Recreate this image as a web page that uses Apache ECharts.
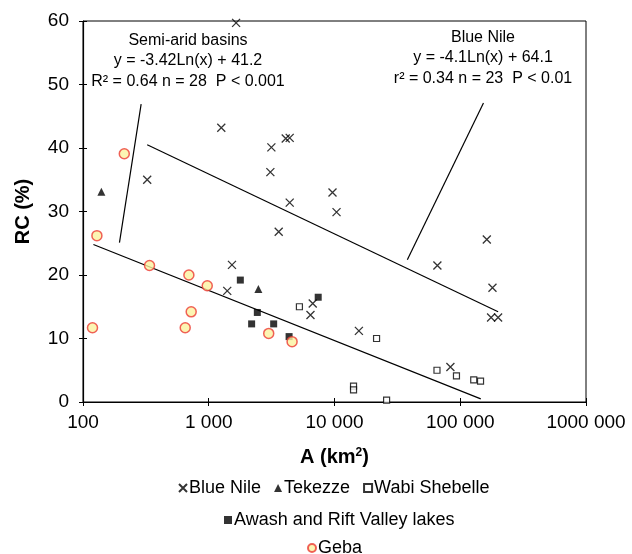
<!DOCTYPE html>
<html>
<head>
<meta charset="utf-8">
<script src="https://cdn.jsdelivr.net/npm/echarts@6/dist/echarts.min.js"></script>
<style>
  html, body { margin: 0; padding: 0; background: #fff; }
  #chart { width: 632px; height: 554px; }
</style>
</head>
<body>
<div id="chart"></div>
<script>
// catchment area A (km2) and runoff coefficient RC (%)
const blueNileA  = [1650, 1258, 3148, 4093, 4403, 3090, 324, 4403, 3600, 9640, 10380, 1530, 1403, 6714, 6440, 15630, 65800, 162600, 180400, 175900, 200000, 83500];
const blueNileRC = [59.7, 43.2, 40.1, 41.5, 41.6, 36.2, 35.0, 31.4, 26.8, 33.0, 29.9, 21.6, 17.5, 15.5, 13.7, 11.2, 21.5, 25.6, 18.0, 13.3, 13.3, 5.5];

const tekezzeA  = [140, 2480];
const tekezzeRC = [33.1, 17.8];

const wabiA  = [5260, 21600, 14170, 14170, 25960, 65300, 93300, 128000, 145000];
const wabiRC = [15.0, 10.0, 2.5, 1.9, 0.3, 5.0, 4.1, 3.5, 3.3];

const awashA  = [1783, 2434, 2193, 3283, 4354, 7420];
const awashRC = [19.2, 14.1, 12.3, 12.3, 10.3, 16.5];

const gebaA  = [213, 129, 338, 695, 973, 725, 650, 119, 2998, 4600];
const gebaRC = [39.1, 26.2, 21.5, 20.0, 18.3, 14.2, 11.7, 11.7, 10.8, 9.5];

// fitted lines (end points) and pointer lines to the equations
const semiAridFit = [[121, 24.8], [145600, 0.5]];
const blueNileFit = [[324, 40.5], [200000, 14.2]];
const semiAridPointer = [[290, 46.9], [195, 25.1]];
const blueNilePointer = [[153000, 47.1], [37950, 22.4]];

const xTickLabels = ['100', '1 000', '10 000', '100 000', '1000 000'];

const semiAridText = 'Semi-arid basins\ny = -3.42Ln(x) + 41.2\nR\u00b2 = 0.64 n = 28  P < 0.001';
const blueNileText = 'Blue Nile\ny = -4.1Ln(x) + 64.1\nr\u00b2 = 0.34 n = 23  P < 0.01';

const zip = (a, b) => a.map((v, i) => [v, b[i]]);
const FONT = '"Liberation Sans", Arial, Helvetica, sans-serif';
const crossPath = 'path://M0,0L10,10M0,10L10,0';

const chart = echarts.init(document.getElementById('chart'));

const baseX = {
  type: 'log', logBase: 10, min: 100, max: 1000000,
  splitLine: { show: false }, minorTick: { show: false }
};
const baseY = {
  type: 'value', min: 0, max: 60, interval: 10,
  splitLine: { show: false }
};
const legendText = { fontSize: 18, color: '#000', fontFamily: FONT, padding: [0, 0, 0, -3] };

chart.setOption({
  animation: false,
  textStyle: { fontFamily: FONT },
  grid: {
    left: 83, top: 21, right: 46, bottom: 152,
    show: true, borderColor: '#000', borderWidth: 1
  },
  xAxis: [
    Object.assign({}, baseX, {
      axisLine: { lineStyle: { color: '#000', width: 1.2 } },
      axisTick: { length: 4, lineStyle: { color: '#000' } },
      axisLabel: {
        fontSize: 19, color: '#000', margin: 11, fontFamily: FONT,
        formatter: (v) => xTickLabels[Math.round(Math.log10(v)) - 2]
      },
      name: '{a|A (km}{s|2}{a|)}',
      nameLocation: 'middle', nameGap: 45,
      nameTextStyle: {
        rich: {
          a: { fontSize: 20, fontWeight: 'bold', color: '#000', fontFamily: FONT },
          s: { fontSize: 12, fontWeight: 'bold', color: '#000', fontFamily: FONT, padding: [0, 0, 9, 0] }
        }
      }
    }),
    Object.assign({}, baseX, {
      position: 'bottom',
      axisLine: { show: false },
      axisTick: { inside: true, length: 4, lineStyle: { color: '#000' } },
      axisLabel: { show: false }
    })
  ],
  yAxis: [
    Object.assign({}, baseY, {
      axisLine: { show: true, lineStyle: { color: '#000', width: 1.2 } },
      axisTick: { show: true, length: 4, lineStyle: { color: '#000' } },
      axisLabel: { fontSize: 19, color: '#000', margin: 14, fontFamily: FONT },
      name: 'RC (%)',
      nameLocation: 'middle', nameGap: 50,
      nameTextStyle: { fontSize: 20, fontWeight: 'bold', color: '#000', fontFamily: FONT }
    }),
    Object.assign({}, baseY, {
      position: 'left',
      axisLine: { show: false },
      axisTick: { show: true, inside: true, length: 4, lineStyle: { color: '#000' } },
      axisLabel: { show: false }
    })
  ],
  legend: [
    {
      data: ['Blue Nile', 'Tekezze', 'Wabi Shebelle'],
      left: 178, top: 479, padding: 0, itemGap: 13, itemWidth: 8, itemHeight: 8,
      selectedMode: false, textStyle: legendText
    },
    {
      data: ['Awash and Rift Valley lakes'],
      left: 224, top: 511, padding: 0, itemWidth: 8, itemHeight: 8,
      selectedMode: false, textStyle: legendText
    },
    {
      data: ['Geba'],
      left: 307, top: 539, padding: 0, itemWidth: 8, itemHeight: 8,
      selectedMode: false, textStyle: legendText
    }
  ],
  graphic: [
    {
      type: 'text', x: 188, y: 30,
      style: {
        text: semiAridText, font: '16px ' + FONT, fill: '#000',
        align: 'center', lineHeight: 20.5
      }
    },
    {
      type: 'text', x: 483, y: 27,
      style: {
        text: blueNileText, font: '16px ' + FONT, fill: '#000',
        align: 'center', lineHeight: 20.5
      }
    }
  ],
  series: [
    {
      name: 'Blue Nile', type: 'scatter', symbol: crossPath, symbolSize: 8,
      itemStyle: { color: 'rgba(0,0,0,0)', borderColor: '#000', borderWidth: 1.3 },
      data: zip(blueNileA, blueNileRC)
    },
    {
      name: 'Tekezze', type: 'scatter', symbol: 'triangle', symbolSize: 8,
      itemStyle: { color: '#000' },
      data: zip(tekezzeA, tekezzeRC)
    },
    {
      name: 'Wabi Shebelle', type: 'scatter', symbol: 'rect', symbolSize: 6,
      itemStyle: { color: '#fff', borderColor: '#000', borderWidth: 1.2 },
      data: zip(wabiA, wabiRC)
    },
    {
      name: 'Awash and Rift Valley lakes', type: 'scatter', symbol: 'rect', symbolSize: 7,
      itemStyle: { color: '#000' },
      data: zip(awashA, awashRC)
    },
    {
      name: 'Geba', type: 'scatter', symbol: 'circle', symbolSize: 10,
      itemStyle: { color: '#fbf3a0', borderColor: '#ec3b33', borderWidth: 1.5 },
      data: zip(gebaA, gebaRC)
    },
    ...[semiAridFit, blueNileFit, semiAridPointer, blueNilePointer].map(d => ({
      type: 'line', data: d, symbol: 'none', silent: true, z: 1,
      lineStyle: { color: '#000', width: 1.2 }
    }))
  ]
});
</script>
</body>
</html>
